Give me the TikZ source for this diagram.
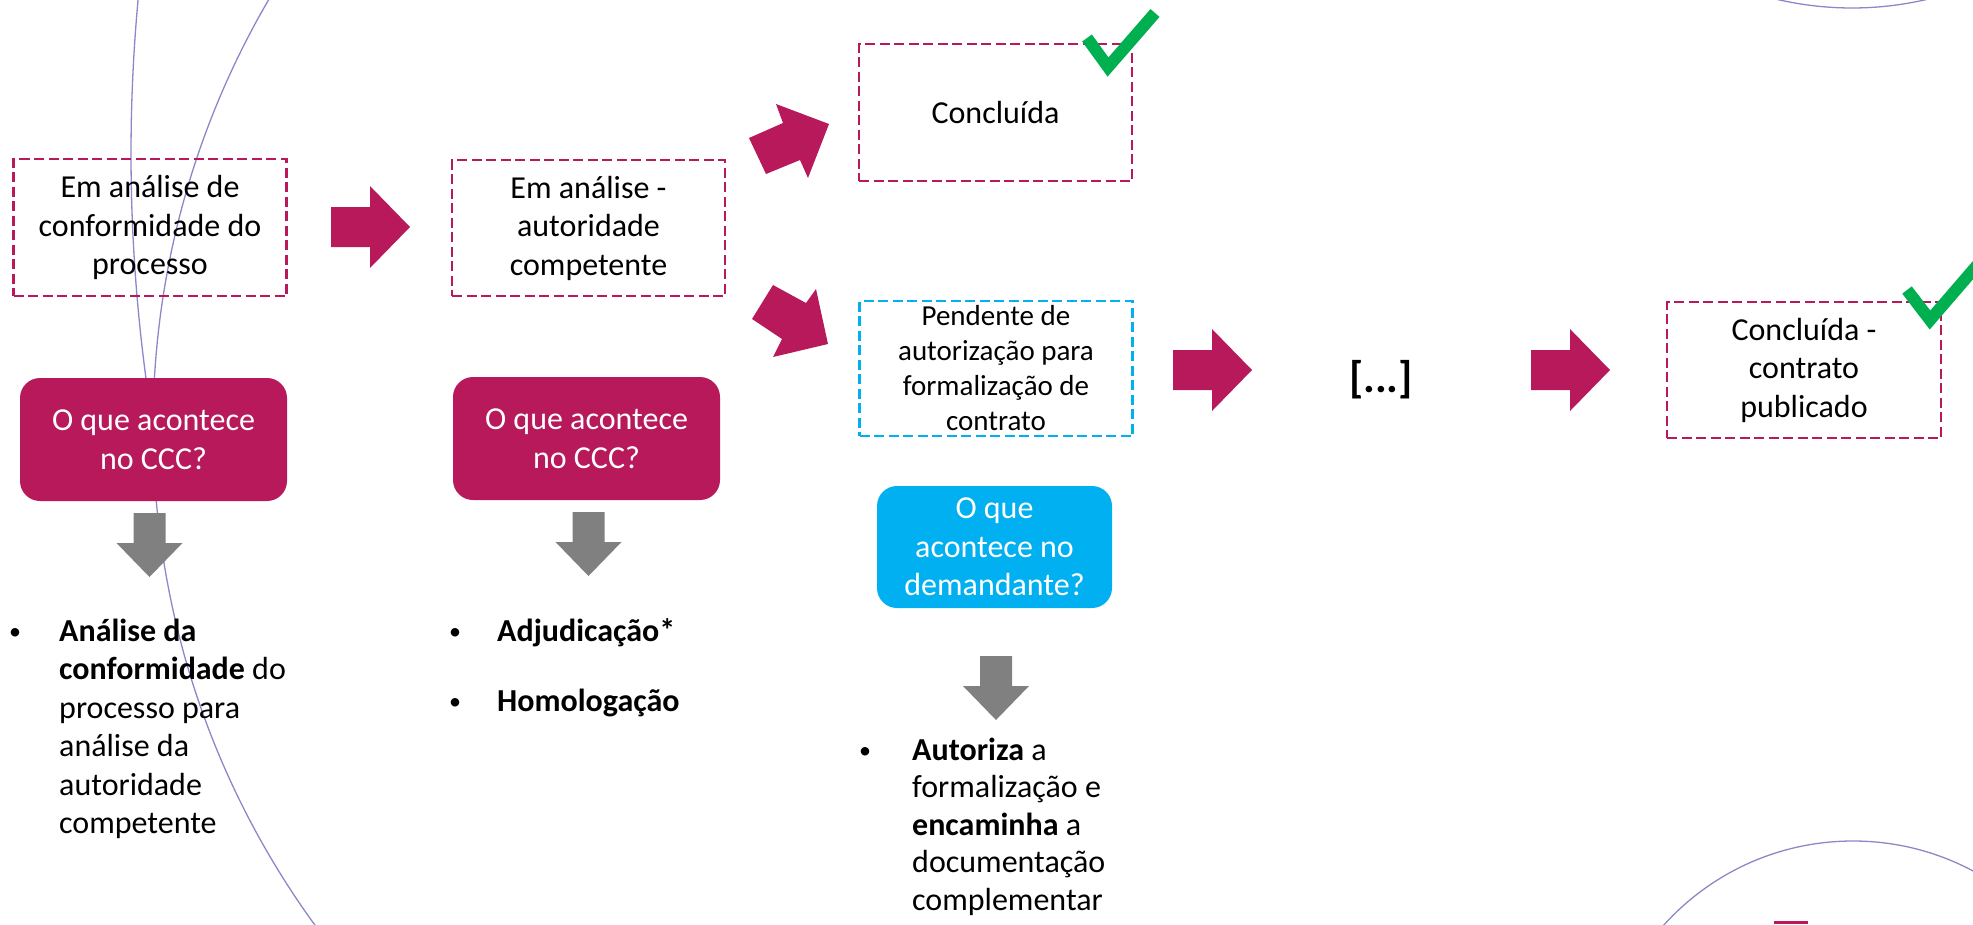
\documentclass[tikz,border=0pt]{standalone}
\usepackage{fontspec}
\setmainfont{Carlito}
\definecolor{mag}{RGB}{183,25,91}
\definecolor{cyn}{RGB}{0,176,240}
\definecolor{gry}{RGB}{128,128,128}
\definecolor{grn}{RGB}{0,176,80}
\definecolor{arcc}{RGB}{140,135,200}
\newcommand\magarrow[2]{\fill[mag] (#1,#2-20) -- ++(39,0) -- ++(0,-21) -- ++(40,41) -- ++(-40,41) -- ++(0,-21) -- ++(-39,0) -- cycle;}
\newcommand\greydown[2]{\fill[gry] (#1-16,#2) -- (#1+16,#2) -- (#1+16,#2+30) -- (#1+33,#2+30) -- (#1,#2+64) -- (#1-33,#2+30) -- (#1-16,#2+30) -- cycle;}
\begin{document}
\begin{tikzpicture}[x=1pt,y=-1pt]
\tikzset{
 txt/.style={font=\fontsize{32}{38.5}\selectfont, inner sep=0pt},
 dbox/.style={draw=mag, line width=2.5pt, dash pattern=on 10pt off 4.5pt, align=center, txt},
 cbox/.style={draw=cyn, line width=2.5pt, dash pattern=on 10pt off 4.5pt, align=center, inner sep=0pt, font=\fontsize{29}{35}\selectfont},
 pbox/.style={fill=mag, rounded corners=20pt, text=white, align=center, txt},
 bbox/.style={fill=cyn, rounded corners=20pt, text=white, align=center, txt},
 bl/.style={txt, anchor=base west},
 bul/.style={font=\fontsize{24}{28}\selectfont, inner sep=0pt, anchor=base},
 arcl/.style={draw=arcc, line width=1.3pt},
 chk/.style={draw=grn, line width=12pt, miter limit=10},
}
\useasboundingbox (0,0) rectangle (1973,924);
\begin{scope}
\clip (0,0) rectangle (1973,924);
% background arcs
\draw[arcl] (1000,427) ++(212:847) arc[start angle=212, end angle=142, radius=847];
\draw[arcl] (1817,154) ++(186:1686) arc[start angle=186, end angle=172, radius=1686];
\draw[arcl] (1852,-322) ++(106:330) arc[start angle=106, end angle=74, radius=330];
\draw[arcl] (1853,1096) circle[radius=255];
\fill[mag] (1774,921) rectangle (1808,924);

% dashed status boxes
\node[dbox, minimum width=273pt, minimum height=137pt] (b1) at (150,227.5) {Em análise de\\conformidade do\\processo};
\node[dbox, minimum width=273pt, minimum height=136pt] (b2) at (588.5,228) {Em análise -\\autoridade\\competente};
\node[dbox, minimum width=273pt, minimum height=137pt] (b3) at (995.5,112.5) {Concluída};
\node[cbox, minimum width=273pt, minimum height=135pt] (b4) at (996,368.5) {Pendente de\\autorização para\\formalização de\\contrato};
\node[dbox, minimum width=274pt, minimum height=136pt] (b5) at (1804,370) {Concluída -\\contrato\\publicado};
\node[font=\fontsize{44}{50}\selectfont\bfseries, inner sep=0pt, anchor=base] (dots) at (1381,392) {[...]};

% question boxes
\node[pbox, minimum width=267pt, minimum height=123pt] (q1) at (153.5,439.5) {O que acontece\\no CCC?};
\node[pbox, minimum width=267pt, minimum height=123pt] (q2) at (586.5,438.5) {O que acontece\\no CCC?};
\node[bbox, minimum width=235pt, minimum height=122pt] (q3) at (994.5,547) {O que\\acontece no\\demandante?};

% magenta block arrows
\magarrow{331}{227}
\magarrow{1173}{370}
\magarrow{1531}{370}
\fill[mag] (749,138) -- (766,174) -- (800,160) -- (808,178) -- (829,124) -- (776,104) -- (783,123) -- cycle;
\fill[mag] (773,285) -- (806,303) -- (816,289) -- (828,344) -- (773,357) -- (782,339) -- (752,319) -- cycle;

% grey arrows
\greydown{149.5}{513}
\greydown{588.5}{512}
\greydown{996}{656}

% check marks
\draw[chk] (1087,38) -- (1108,67) -- (1155,13);
\draw[chk] (1907,290) -- (1930,320) -- (1980,262);

% bullet list 1
\node[bul] (u1) at (15,639) {•};
\node[bl] (t1a) at (59,641) {\bfseries Análise da};
\node[bl] (t1b) at (59,679.5) {\textbf{conformidade} do};
\node[bl] (t1c) at (59,718) {processo para};
\node[bl] (t1d) at (59,756.5) {análise da};
\node[bl] (t1e) at (59,795) {autoridade};
\node[bl] (t1f) at (59,833.5) {competente};

% bullet list 2
\node[bul] (u2) at (455,639) {•};
\node[bl] (t2a) at (497,641) {\bfseries Adjudicação*};
\node[bul] (u3) at (455,709) {•};
\node[bl] (t2b) at (497,711) {\bfseries Homologação};

% bullet list 3
\node[bul] (u4) at (865,758) {•};
\node[bl] (t3a) at (912,760) {\textbf{Autoriza} a};
\node[bl] (t3b) at (912,797.5) {formalização e};
\node[bl] (t3c) at (912,835) {\textbf{encaminha} a};
\node[bl] (t3d) at (912,872.5) {documentação};
\node[bl] (t3e) at (912,910) {complementar};
\end{scope}
\end{tikzpicture}
\end{document}
